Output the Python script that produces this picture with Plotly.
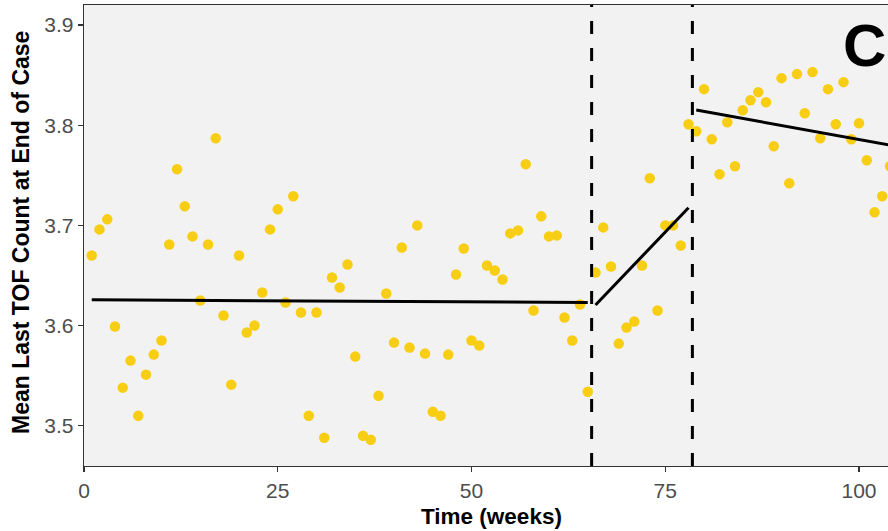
import plotly.graph_objects as go

# ---- data ----
weeks = list(range(1, 105))
mean_tof = [
    3.670, 3.696, 3.706, 3.599, 3.538, 3.565, 3.510, 3.551, 3.571, 3.585,
    3.681, 3.756, 3.719, 3.689, 3.625, 3.681, 3.787, 3.610, 3.541, 3.670,
    3.593, 3.600, 3.633, 3.696, 3.716, 3.623, 3.729, 3.613, 3.510, 3.613,
    3.488, 3.648, 3.638, 3.661, 3.569, 3.490, 3.486, 3.530, 3.632, 3.583,
    3.678, 3.578, 3.700, 3.572, 3.514, 3.510, 3.571, 3.651, 3.677, 3.585,
    3.580, 3.660, 3.655, 3.646, 3.692, 3.695, 3.761, 3.615, 3.709, 3.689,
    3.690, 3.608, 3.585, 3.621, 3.534, 3.653, 3.698, 3.659, 3.582, 3.598,
    3.604, 3.660, 3.747, 3.615, 3.700, 3.700, 3.680, 3.801, 3.794, 3.836,
    3.786, 3.751, 3.803, 3.759, 3.815, 3.825, 3.833, 3.823, 3.779, 3.847,
    3.742, 3.851, 3.812, 3.853, 3.787, 3.836, 3.801, 3.843, 3.786, 3.802,
    3.765, 3.713, 3.729, 3.759,
]

# fitted segments (endpoints)
seg1_x = [1, 65]
seg1_y = [3.6258, 3.6230]
seg2_x = [66, 78]
seg2_y = [3.6205, 3.7176]
seg3_x = [79, 104]
seg3_y = [3.8151, 3.7802]

# interruption boundaries
breaks_x = [65.5, 78.5]

x_ticks = [0, 25, 50, 75, 100]
y_ticks = [3.5, 3.6, 3.7, 3.8, 3.9]

x_title = "Time (weeks)"
y_title = "Mean Last TOF Count at End of Case"
panel_label = "C"

FONT = "Liberation Sans, Arial, sans-serif"

fig = go.Figure()

fig.add_trace(go.Scatter(
    x=weeks, y=mean_tof, mode="markers",
    marker=dict(color="#F8CE14", size=10.5, line=dict(width=0)),
    showlegend=False, hoverinfo="skip",
))

for sx, sy in [(seg1_x, seg1_y), (seg2_x, seg2_y), (seg3_x, seg3_y)]:
    fig.add_trace(go.Scatter(
        x=sx, y=sy, mode="lines",
        line=dict(color="black", width=3),
        showlegend=False, hoverinfo="skip",
    ))

for bx in breaks_x:
    fig.add_shape(
        type="line", xref="x", yref="paper",
        x0=bx, x1=bx, y0=0, y1=1,
        line=dict(color="black", width=3, dash="13px,14px"),
        layer="above",
    )

fig.add_annotation(
    text=panel_label, xref="paper", yref="paper",
    x=(864 - 84) / 804, y=1 - (46 - 5) / 461,
    xanchor="center", yanchor="middle", showarrow=False,
    font=dict(family=FONT, size=60, color="black", weight="bold"),
)

fig.add_annotation(
    text=x_title, xref="paper", yref="paper",
    x=(491 - 84) / 804, y=-(516 - 466) / 461,
    xanchor="center", yanchor="middle", showarrow=False,
    font=dict(family=FONT, size=22.5, color="black", weight="bold"),
)

fig.add_annotation(
    text=y_title, xref="paper", yref="paper",
    x=(21 - 84) / 804, y=1 - (233 - 5) / 461, textangle=-90,
    xanchor="center", yanchor="middle", showarrow=False,
    font=dict(family=FONT, size=23, color="black", weight="bold"),
)

axis_common = dict(
    showgrid=False, zeroline=False,
    showline=True, linecolor="#333333", linewidth=1.3,
    ticks="outside", ticklen=5, tickwidth=1.3, tickcolor="#333333",
    tickfont=dict(family=FONT, size=21, color="#4D4D4D"),
)

fig.update_layout(
    width=888, height=531,
    margin=dict(l=84, r=0, t=5, b=65),
    paper_bgcolor="white",
    plot_bgcolor="#F2F2F2",
    xaxis=dict(range=[0, 103.74], tickvals=x_ticks, mirror=True, **axis_common),
    yaxis=dict(range=[3.4598, 3.920], tickvals=y_ticks, tickformat=".1f", **axis_common),
)

fig.write_html(
    "out.html",
    config={"displayModeBar": False, "staticPlot": True},
    post_script="document.body.style.margin='0';document.body.style.overflow='hidden';",
)
